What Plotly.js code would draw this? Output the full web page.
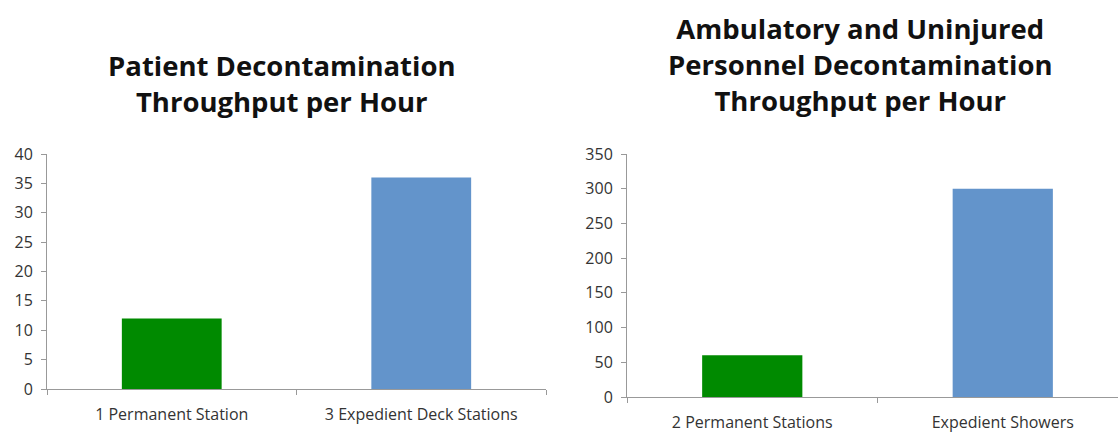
<!DOCTYPE html>
<html><head><meta charset="utf-8">
<script src="https://cdn.plot.ly/plotly-3.0.1.min.js"></script>
<style>html,body{margin:0;padding:0;background:#fff;overflow:hidden}</style>
</head><body><div id="chart" style="width:1118px;height:432px"></div>
<script>
const leftCategories = ["1 Permanent Station", "3 Expedient Deck Stations"];
const leftValues = [12, 36];
const rightCategories = ["2 Permanent Stations", "Expedient Showers"];
const rightValues = [60, 300];
const barColors = ["#008a00", "#6394cb"];
const leftTitle = "Patient Decontamination<br>Throughput per Hour";
const rightTitle = "Ambulatory and Uninjured<br>Personnel Decontamination<br>Throughput per Hour";

const fam = "'Open Sans', Lato, sans-serif";
const axisCommon = {
  showline: true, linecolor: "#999", linewidth: 1,
  ticks: "outside", ticklen: 5, tickcolor: "#999",
  showgrid: false, zeroline: false, fixedrange: true
};
const xAxisCommon = Object.assign({}, axisCommon, {type: "category", tickson: "boundaries",
  tickfont: {family: fam, size: 16, color: "#333"}, ticklabelstandoff: 11});
const yAxisCommon = Object.assign({}, axisCommon, {tick0: 0,
  tickfont: {family: fam, size: 16, color: "#333"}, ticklabelstandoff: 5});

const data = [
  {type: "bar", x: leftCategories, y: leftValues, marker: {color: barColors}, xaxis: "x", yaxis: "y", hoverinfo: "none"},
  {type: "bar", x: rightCategories, y: rightValues, marker: {color: barColors}, xaxis: "x2", yaxis: "y2", hoverinfo: "none"}
];

const layout = {
  width: 1118, height: 432,
  margin: {l: 0, r: 0, t: 0, b: 0},
  paper_bgcolor: "#fff", plot_bgcolor: "#fff",
  showlegend: false, bargap: 0.6,
  xaxis: Object.assign({}, xAxisCommon, {domain: [47/1118, 546/1118], anchor: "y", range: [-0.5, 1.5]}),
  yaxis: Object.assign({}, yAxisCommon, {domain: [1-389/432, 1-154/432], anchor: "x", range: [0, 40], dtick: 5}),
  xaxis2: Object.assign({}, xAxisCommon, {domain: [627/1118, 1], anchor: "y2", range: [-0.5, 1.46]}),
  yaxis2: Object.assign({}, yAxisCommon, {domain: [1-397/432, 1-154/432], anchor: "x2", range: [0, 350], dtick: 50}),
  annotations: [
    {text: leftTitle, xref: "paper", yref: "paper", x: 282/1118, y: 1-84/432, xanchor: "center", yanchor: "middle", showarrow: false,
     font: {family: fam, size: 27.5, color: "#111", weight: "bold"}},
    {text: rightTitle, xref: "paper", yref: "paper", x: 860/1118, y: 1-64/432, xanchor: "center", yanchor: "middle", showarrow: false,
     font: {family: fam, size: 27.5, color: "#111", weight: "bold"}}
  ]
};

Plotly.newPlot("chart", data, layout, {displayModeBar: false, staticPlot: true});
</script>
</body></html>
